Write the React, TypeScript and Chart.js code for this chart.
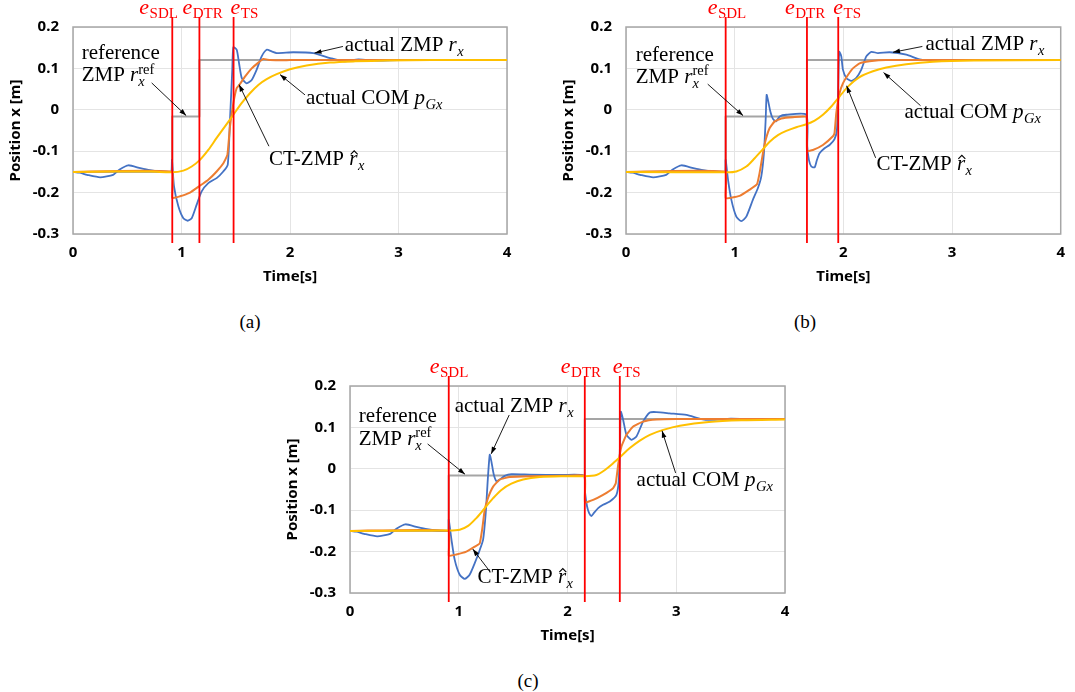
import React, { useEffect, useRef } from 'react';
import { Chart, registerables } from 'chart.js';

Chart.register(...registerables);

// ---------------- data ----------------
const X_TICKS = [0, 1, 2, 3, 4];
const Y_TICKS = [-0.3, -0.2, -0.1, 0, 0.1, 0.2];
const Y_TICK_LABELS = ['-0.3', '-0.2', '-0.1', '0', '0.1', '0.2'];
const EVENT_NAMES = ['SDL', 'DTR', 'TS'];
const REF_LEVELS = [-0.15, -0.016, 0.12];

// actual ZMP before the first event (same in all three trials)
const EARLY_ZMP_T = [0, 0.06, 0.13, 0.25, 0.37, 0.43, 0.51, 0.62, 0.71, 0.8, 0.88];
const EARLY_ZMP_V = [-0.15, -0.152, -0.157, -0.163, -0.157, -0.144, -0.134, -0.141, -0.146, -0.149, -0.15];

// ----- (a) -----
const A_EVENTS = [0.915, 1.165, 1.48];
const A_ZMP_T = [0.907, 0.912, 0.931, 0.971, 1.017, 1.057, 1.094, 1.14, 1.186, 1.247, 1.324, 1.385, 1.426, 1.447, 1.468, 1.478, 1.509, 1.53, 1.555, 1.601, 1.647, 1.693, 1.739, 1.785, 1.831, 1.877, 2.03, 2.215, 2.37, 2.5, 2.63, 2.8, 3.0, 4.0];
const A_ZMP_V = [-0.15, -0.121, -0.185, -0.233, -0.262, -0.268, -0.262, -0.229, -0.197, -0.177, -0.165, -0.149, -0.133, -0.024, 0.097, 0.151, 0.145, 0.113, 0.077, 0.064, 0.072, 0.097, 0.129, 0.145, 0.141, 0.137, 0.139, 0.137, 0.125, 0.117, 0.122, 0.119, 0.12, 0.12];
const A_CT_T = [0, 0.912, 0.915, 0.986, 1.078, 1.161, 1.247, 1.324, 1.386, 1.423, 1.447, 1.478, 1.508, 1.533, 1.585, 1.647, 1.708, 1.754, 1.815, 2.0, 4.0];
const A_CT_V = [-0.15, -0.15, -0.213, -0.209, -0.2, -0.185, -0.169, -0.149, -0.129, -0.109, -0.04, 0.016, 0.052, 0.06, 0.08, 0.1, 0.114, 0.123, 0.12, 0.12, 0.12];
const A_COM_T = [0, 0.71, 0.909, 1.017, 1.094, 1.17, 1.247, 1.324, 1.401, 1.478, 1.554, 1.631, 1.708, 1.785, 1.877, 2.0, 2.153, 2.368, 2.6, 2.9, 3.3, 4.0];
const A_COM_V = [-0.15, -0.149, -0.151, -0.147, -0.137, -0.121, -0.097, -0.068, -0.04, -0.012, 0.016, 0.04, 0.06, 0.074, 0.086, 0.098, 0.107, 0.114, 0.117, 0.119, 0.12, 0.12];

// ----- (b) -----
const B_EVENTS = [0.917, 1.665, 1.953];
const B_ZMP_T = [0.914, 0.917, 0.939, 0.969, 1.015, 1.061, 1.107, 1.168, 1.214, 1.245, 1.269, 1.285, 1.294, 1.306, 1.328, 1.352, 1.38, 1.414, 1.475, 1.659, 1.668, 1.683, 1.705, 1.736, 1.757, 1.781, 1.827, 1.873, 1.919, 1.941, 1.953, 1.962, 1.981, 1.996, 2.027, 2.073, 2.119, 2.165, 2.211, 2.257, 2.318, 2.426, 2.579, 2.702, 2.85, 3.0, 4.0];
const B_ZMP_V = [-0.15, -0.121, -0.169, -0.217, -0.258, -0.269, -0.258, -0.217, -0.189, -0.161, -0.105, -0.024, 0.036, 0.024, -0.004, -0.022, -0.028, -0.016, -0.012, -0.012, -0.089, -0.121, -0.137, -0.139, -0.121, -0.105, -0.093, -0.085, -0.071, -0.048, 0.056, 0.14, 0.129, 0.097, 0.077, 0.07, 0.077, 0.097, 0.129, 0.14, 0.137, 0.139, 0.133, 0.122, 0.119, 0.12, 0.12];
const B_CT_T = [0, 0.914, 0.918, 1.046, 1.138, 1.205, 1.229, 1.26, 1.285, 1.322, 1.368, 1.429, 1.536, 1.659, 1.666, 1.72, 1.812, 1.904, 1.919, 1.935, 1.965, 1.996, 2.042, 2.088, 2.149, 2.241, 2.395, 4.0];
const B_CT_V = [-0.15, -0.15, -0.213, -0.208, -0.193, -0.18, -0.153, -0.105, -0.073, -0.044, -0.028, -0.021, -0.018, -0.017, -0.099, -0.097, -0.085, -0.064, -0.056, -0.008, 0.04, 0.064, 0.084, 0.1, 0.112, 0.117, 0.12, 0.12];
const B_COM_T = [0, 0.923, 1.015, 1.107, 1.184, 1.26, 1.322, 1.398, 1.475, 1.567, 1.659, 1.736, 1.812, 1.889, 1.965, 2.042, 2.149, 2.272, 2.395, 2.579, 2.825, 3.2, 4.0];
const B_COM_V = [-0.15, -0.151, -0.149, -0.137, -0.117, -0.095, -0.077, -0.061, -0.051, -0.042, -0.035, -0.026, -0.012, 0.008, 0.032, 0.056, 0.079, 0.093, 0.102, 0.11, 0.116, 0.119, 0.12];

// ----- (c) -----
const C_EVENTS = [0.908, 2.159, 2.481];
const C_ZMP_T = [0.905, 0.908, 0.933, 0.963, 1.009, 1.055, 1.1, 1.147, 1.193, 1.224, 1.248, 1.267, 1.285, 1.3, 1.322, 1.347, 1.377, 1.423, 1.484, 1.653, 1.959, 2.15, 2.162, 2.18, 2.199, 2.22, 2.242, 2.282, 2.327, 2.389, 2.45, 2.472, 2.484, 2.49, 2.512, 2.542, 2.588, 2.634, 2.695, 2.757, 2.818, 2.94, 3.094, 3.23, 3.32, 3.5, 3.7, 4.0];
const C_ZMP_V = [-0.15, -0.123, -0.171, -0.22, -0.256, -0.266, -0.256, -0.228, -0.196, -0.171, -0.107, -0.026, 0.034, 0.018, -0.014, -0.03, -0.026, -0.017, -0.013, -0.014, -0.015, -0.017, -0.058, -0.091, -0.107, -0.114, -0.107, -0.095, -0.087, -0.079, -0.063, -0.026, 0.07, 0.138, 0.118, 0.082, 0.07, 0.078, 0.114, 0.136, 0.137, 0.134, 0.13, 0.12, 0.118, 0.121, 0.12, 0.12];
const C_CT_T = [0, 0.905, 0.909, 0.978, 1.07, 1.147, 1.193, 1.215, 1.239, 1.27, 1.316, 1.377, 1.469, 1.653, 1.959, 2.158, 2.161, 2.236, 2.327, 2.419, 2.444, 2.468, 2.496, 2.542, 2.604, 2.695, 2.818, 3.0, 4.0];
const C_CT_V = [-0.15, -0.15, -0.21, -0.207, -0.2, -0.188, -0.18, -0.147, -0.099, -0.07, -0.043, -0.026, -0.02, -0.018, -0.017, -0.017, -0.081, -0.075, -0.063, -0.047, -0.035, 0.014, 0.054, 0.082, 0.102, 0.114, 0.119, 0.12, 0.12];
const C_COM_T = [0, 0.908, 1.009, 1.086, 1.162, 1.239, 1.316, 1.392, 1.484, 1.592, 1.745, 1.959, 2.159, 2.266, 2.327, 2.404, 2.481, 2.573, 2.665, 2.757, 2.88, 3.033, 3.3, 3.6, 4.0];
const C_COM_V = [-0.15, -0.149, -0.147, -0.138, -0.119, -0.095, -0.071, -0.051, -0.036, -0.026, -0.02, -0.018, -0.018, -0.015, -0.006, 0.01, 0.028, 0.05, 0.068, 0.082, 0.094, 0.104, 0.113, 0.117, 0.119];

// ---------------- text pieces ----------------
type Seg = { s: string; it?: boolean; pos?: 'sub' | 'sup'; stack?: boolean; hat?: boolean };
const SEG_REFERENCE: Seg[] = [{ s: 'reference' }];
const SEG_ZMP_REF: Seg[] = [{ s: 'ZMP ' }, { s: 'r', it: true }, { s: 'ref', pos: 'sup' }, { s: 'x', it: true, pos: 'sub', stack: true }];
const SEG_ACT_ZMP: Seg[] = [{ s: 'actual ZMP ' }, { s: 'r', it: true }, { s: 'x', it: true, pos: 'sub' }];
const SEG_ACT_COM: Seg[] = [{ s: 'actual COM ' }, { s: 'p', it: true }, { s: 'Gx', it: true, pos: 'sub' }];
const SEG_CT_ZMP: Seg[] = [{ s: 'CT-ZMP ' }, { s: 'r', it: true, hat: true }, { s: 'x', it: true, pos: 'sub' }];

// annotation anchors (data coordinates) -- layout, not data
const A_TEXTS = [
  { segs: SEG_REFERENCE, at: [0.08, 0.123] },
  { segs: SEG_ZMP_REF, at: [0.08, 0.0686] },
  { segs: SEG_ACT_ZMP, at: [2.505, 0.141] },
  { segs: SEG_ACT_COM, at: [2.147, 0.014] },
  { segs: SEG_CT_ZMP, at: [1.806, -0.134] },
];
const A_ARROWS = [
  { from: [0.725, 0.065], to: [1.043, -0.014] },
  { from: [2.488, 0.153], to: [2.226, 0.137] },
  { from: [2.138, 0.036], to: [1.908, 0.085] },
  { from: [1.806, -0.088], to: [1.53, 0.061] },
];
const B_TEXTS = [
  { segs: SEG_REFERENCE, at: [0.09, 0.119] },
  { segs: SEG_ZMP_REF, at: [0.09, 0.065] },
  { segs: SEG_ACT_ZMP, at: [2.756, 0.145] },
  { segs: SEG_ACT_COM, at: [2.563, -0.019] },
  { segs: SEG_CT_ZMP, at: [2.306, -0.145] },
];
const B_ARROWS = [
  { from: [0.752, 0.062], to: [1.077, -0.014] },
  { from: [2.727, 0.153], to: [2.457, 0.139] },
  { from: [2.71, 0.01], to: [2.37, 0.09] },
  { from: [2.297, -0.116], to: [2.03, 0.058] },
];
const C_TEXTS = [
  { segs: SEG_REFERENCE, at: [0.08, 0.114] },
  { segs: SEG_ZMP_REF, at: [0.08, 0.058] },
  { segs: SEG_ACT_ZMP, at: [0.963, 0.136] },
  { segs: SEG_ACT_COM, at: [2.635, -0.041] },
  { segs: SEG_CT_ZMP, at: [1.173, -0.276] },
];
const C_ARROWS = [
  { from: [0.714, 0.06], to: [1.057, -0.013] },
  { from: [1.464, 0.13], to: [1.298, 0.036] },
  { from: [2.994, -0.01], to: [2.869, 0.092] },
  { from: [1.292, -0.25], to: [1.129, -0.194] },
];

// ---------------- styling ----------------
const SERIF = '"Liberation Serif", "DejaVu Serif", serif';
const SANS = '"Noto Sans", "DejaVu Sans", sans-serif';
const C_BLUE = '#4472C4';
const C_ORANGE = '#ED7D31';
const C_YELLOW = '#FFC000';
const C_GRAY = '#A5A5A5';
const C_RED = '#FF0000';

type TextOpts = { size: number; subSize: number; subDy: number; supDy: number; color: string };

function drawRich(ctx: CanvasRenderingContext2D, x: number, y: number, segs: Seg[], o: TextOpts) {
  let cx = x;
  let lastStart = x;
  ctx.fillStyle = o.color;
  ctx.strokeStyle = o.color;
  ctx.textAlign = 'left';
  ctx.textBaseline = 'alphabetic';
  for (const g of segs) {
    const sz = g.pos ? o.subSize : o.size;
    ctx.font = `${g.it ? 'italic ' : ''}${sz}px ${SERIF}`;
    const dy = g.pos === 'sub' ? o.subDy : g.pos === 'sup' ? o.supDy : 0;
    const sx = g.stack ? lastStart : cx + (g.pos === 'sub' ? 0.5 : 0);
    ctx.fillText(g.s, sx, y + dy);
    const w = ctx.measureText(g.s).width;
    if (g.hat) {
      const hx = sx + w * 0.6;
      ctx.lineWidth = 1.1;
      ctx.beginPath();
      ctx.moveTo(hx - 3.5, y - 11);
      ctx.lineTo(hx, y - 14.5);
      ctx.lineTo(hx + 3.5, y - 11);
      ctx.stroke();
    }
    if (g.stack) {
      cx = Math.max(cx, sx + w);
    } else {
      lastStart = sx;
      cx = sx + w;
    }
  }
}

function drawArrow(ctx: CanvasRenderingContext2D, x1: number, y1: number, x2: number, y2: number) {
  ctx.strokeStyle = '#000';
  ctx.fillStyle = '#000';
  ctx.lineWidth = 0.9;
  ctx.beginPath();
  ctx.moveTo(x1, y1);
  ctx.lineTo(x2, y2);
  ctx.stroke();
  const a = Math.atan2(y2 - y1, x2 - x1);
  const L = 7;
  const W = 2.4;
  ctx.beginPath();
  ctx.moveTo(x2, y2);
  ctx.lineTo(x2 - L * Math.cos(a) + W * Math.sin(a), y2 - L * Math.sin(a) - W * Math.cos(a));
  ctx.lineTo(x2 - L * Math.cos(a) - W * Math.sin(a), y2 - L * Math.sin(a) + W * Math.cos(a));
  ctx.closePath();
  ctx.fill();
}

function zip(t: number[], v: number[]) {
  return t.map((x, i) => ({ x, y: v[i] }));
}

function refLine(ev: number[]) {
  const [sdl, dtr] = ev;
  return [
    { x: 0, y: REF_LEVELS[0] },
    { x: sdl, y: REF_LEVELS[0] },
    { x: sdl, y: REF_LEVELS[1] },
    { x: dtr, y: REF_LEVELS[1] },
    { x: dtr, y: REF_LEVELS[2] },
    { x: 4, y: REF_LEVELS[2] },
  ];
}

type Spec = {
  left: number; top: number; w: number; h: number;
  padTop: number; padRight: number; xAxisH: number;
  events: number[]; labelOffsets: number[];
  zmpT: number[]; zmpV: number[]; ctT: number[]; ctV: number[]; comT: number[]; comV: number[];
  texts: { segs: Seg[]; at: number[] }[];
  arrows: { from: number[]; to: number[] }[];
};

const SPECS: Spec[] = [
  {
    left: 0, top: 0, w: 545, h: 300, padTop: 27, padRight: 38, xAxisH: 66,
    events: A_EVENTS, labelOffsets: [-33, -17, -3],
    zmpT: A_ZMP_T, zmpV: A_ZMP_V, ctT: A_CT_T, ctV: A_CT_V, comT: A_COM_T, comV: A_COM_V,
    texts: A_TEXTS, arrows: A_ARROWS,
  },
  {
    left: 553, top: 0, w: 522, h: 300, padTop: 27, padRight: 14, xAxisH: 66,
    events: B_EVENTS, labelOffsets: [-18, -22, -5],
    zmpT: B_ZMP_T, zmpV: B_ZMP_V, ctT: B_CT_T, ctV: B_CT_V, comT: B_COM_T, comV: B_COM_V,
    texts: B_TEXTS, arrows: B_ARROWS,
  },
  {
    left: 277, top: 360, w: 540, h: 300, padTop: 26, padRight: 32, xAxisH: 67,
    events: C_EVENTS, labelOffsets: [-19, -24, -7],
    zmpT: C_ZMP_T, zmpV: C_ZMP_V, ctT: C_CT_T, ctV: C_CT_V, comT: C_COM_T, comV: C_COM_V,
    texts: C_TEXTS, arrows: C_ARROWS,
  },
];

function makeConfig(spec: Spec): any {
  const decoPlugin = {
    id: 'deco',
    beforeDatasetsDraw(chart: any) {
      const { ctx, chartArea } = chart;
      ctx.save();
      ctx.strokeStyle = '#A6A6A6';
      ctx.lineWidth = 1.5;
      ctx.strokeRect(chartArea.left, chartArea.top, chartArea.right - chartArea.left, chartArea.bottom - chartArea.top);
      ctx.restore();
    },
    afterDatasetsDraw(chart: any) {
      const { ctx, chartArea, scales } = chart;
      ctx.save();
      spec.events.forEach((t, i) => {
        const px = scales.x.getPixelForValue(t);
        ctx.strokeStyle = C_RED;
        ctx.lineWidth = 1.8;
        ctx.beginPath();
        ctx.moveTo(px, chartArea.top - 10);
        ctx.lineTo(px, chartArea.bottom + 9);
        ctx.stroke();
        drawRich(ctx, px + spec.labelOffsets[i], chartArea.top - 13,
          [{ s: 'e', it: true }, { s: EVENT_NAMES[i], pos: 'sub' }],
          { size: 22, subSize: 15, subDy: 3.5, supDy: 0, color: C_RED });
      });
      ctx.restore();
    },
    afterDraw(chart: any) {
      const { ctx, scales } = chart;
      ctx.save();
      spec.arrows.forEach((a) => {
        drawArrow(ctx,
          scales.x.getPixelForValue(a.from[0]), scales.y.getPixelForValue(a.from[1]),
          scales.x.getPixelForValue(a.to[0]), scales.y.getPixelForValue(a.to[1]));
      });
      spec.texts.forEach((tx) => {
        drawRich(ctx, scales.x.getPixelForValue(tx.at[0]), scales.y.getPixelForValue(tx.at[1]), tx.segs,
          { size: 21, subSize: 14.5, subDy: 5, supDy: -7.5, color: '#000' });
      });
      ctx.restore();
    },
  };

  const tickFont = { family: SANS, size: 15, weight: 'bold' as const };
  const titleFont = { family: SANS, size: 15, weight: 'bold' as const };

  return {
    type: 'line',
    data: {
      datasets: [
        { data: refLine(spec.events), borderColor: C_GRAY, borderWidth: 2, tension: 0, order: 3 },
        { data: zip([...EARLY_ZMP_T, ...spec.zmpT], [...EARLY_ZMP_V, ...spec.zmpV]), borderColor: C_BLUE, borderWidth: 1.8, tension: 0.2, order: 2 },
        { data: zip(spec.ctT, spec.ctV), borderColor: C_ORANGE, borderWidth: 2, tension: 0.12, order: 1 },
        { data: zip(spec.comT, spec.comV), borderColor: C_YELLOW, borderWidth: 2, tension: 0.3, order: 0 },
      ],
    },
    options: {
      animation: false,
      responsive: false,
      devicePixelRatio: 1,
      layout: { padding: { top: spec.padTop, right: spec.padRight, left: 0, bottom: 0 } },
      plugins: { legend: { display: false }, tooltip: { enabled: false }, title: { display: false } },
      elements: { point: { radius: 0, hoverRadius: 0 }, line: { borderCapStyle: 'round', borderJoinStyle: 'round' } },
      scales: {
        x: {
          type: 'linear',
          min: 0,
          max: 4,
          afterBuildTicks: (s: any) => { s.ticks = X_TICKS.map((v) => ({ value: v })); },
          afterFit: (s: any) => { s.height = spec.xAxisH; },
          grid: { color: '#E4E4E4', lineWidth: 1, drawTicks: false },
          border: { display: false },
          ticks: { padding: 10, color: '#000', font: tickFont, callback: (v: number) => String(v) },
          title: { display: true, text: 'Time[s]', color: '#000', font: titleFont, padding: { top: 0, bottom: spec.xAxisH - 9 - 43 } },
        },
        y: {
          type: 'linear',
          min: -0.3,
          max: 0.2,
          afterBuildTicks: (s: any) => { s.ticks = Y_TICKS.map((v) => ({ value: v })); },
          afterFit: (s: any) => { s.width = 73; },
          grid: { color: '#E4E4E4', lineWidth: 1, drawTicks: false },
          border: { display: false },
          ticks: {
            padding: 14,
            color: '#000',
            font: tickFont,
            callback: (v: number) => {
              const i = Y_TICKS.findIndex((t) => Math.abs(t - v) < 1e-9);
              return i >= 0 ? Y_TICK_LABELS[i] : '';
            },
          },
          title: { display: true, text: 'Position x [m]', color: '#000', font: titleFont, padding: { top: 6.5, bottom: 0 } },
        },
      },
    },
    plugins: [decoPlugin],
  };
}

function ChartBox({ spec }: { spec: Spec }) {
  const ref = useRef<HTMLCanvasElement>(null);
  useEffect(() => {
    const chart = new Chart(ref.current as HTMLCanvasElement, makeConfig(spec));
    return () => chart.destroy();
  }, [spec]);
  return (
    <div style={{ position: 'absolute', left: spec.left, top: spec.top, width: spec.w, height: spec.h }}>
      <canvas ref={ref} width={spec.w} height={spec.h} style={{ display: 'block', width: spec.w, height: spec.h }} />
    </div>
  );
}

const CAPTIONS = [
  { text: '(a)', x: 250, y: 321 },
  { text: '(b)', x: 805, y: 321 },
  { text: '(c)', x: 528, y: 680 },
];

export default function App() {
  return (
    <div style={{ position: 'absolute', left: 0, top: 0, width: 1075, height: 692, background: '#fff' }}>
      {SPECS.map((s, i) => (
        <ChartBox key={i} spec={s} />
      ))}
      {CAPTIONS.map((c) => (
        <div
          key={c.text}
          style={{
            position: 'absolute', left: c.x, top: c.y, transform: 'translate(-50%, -50%)',
            fontFamily: SERIF, fontSize: 19, color: '#000', lineHeight: 1, whiteSpace: 'nowrap',
          }}
        >
          {c.text}
        </div>
      ))}
    </div>
  );
}
